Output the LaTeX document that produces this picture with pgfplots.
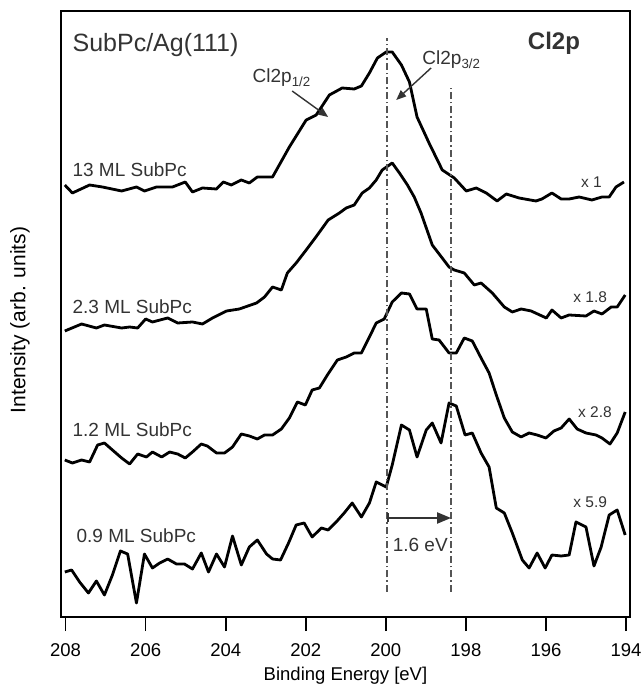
\documentclass[border=0pt]{standalone}
\usepackage{pgfplots}
\pgfplotsset{compat=1.18}
\usepackage{fontspec}
\setmainfont{Liberation Sans}
\usetikzlibrary{arrows.meta}
\definecolor{txt}{HTML}{333333}
\definecolor{dd}{HTML}{555555}
\tikzset{spec/.style={black, line width=2.8pt, line join=round, no marks}}
\begin{document}
\begin{tikzpicture}
\begin{axis}[
  scale only axis, width=569pt, height=606pt,
  xmin=193.9, xmax=208.115, x dir=reverse,
  ymin=68, ymax=674,
  ytick=\empty,
  xtick={194,196,...,208},
  tick pos=left,
  tick align=outside, major tick length=14pt,
  axis line style={line width=1.6pt},
  major tick style={line width=1.6pt, black},
  xticklabel style={font=\fontsize{18.5}{20}\selectfont, inner sep=0pt, anchor=base, yshift=-25pt},
  xticklabel shift=0pt,
  typeset ticklabels with strut=false,
  /pgf/number format/assume math mode=true,
  xlabel={Binding Energy [eV]},
  ylabel={Intensity (arb. units)},
  xlabel style={font=\fontsize{18.5}{20}\selectfont, inner sep=0pt, at={(axis description cs:0.5,-0.104)}, anchor=base},
  ylabel style={font=\fontsize{21}{23}\selectfont, inner sep=0pt, at={(axis description cs:-0.072,0.49)}, anchor=center},
]
% 13 ML
\addplot[spec] coordinates {
(208.02,500)(207.83,492)(207.40,500)(207.08,498)(206.60,494)(206.23,498)(206.03,494)
(205.73,498)(205.33,498)(205.01,503)(204.83,493)(204.58,497)(204.23,496)(204.06,503)
(203.86,500)(203.61,505)(203.41,502)(203.21,508)(202.83,508)(202.41,538)(201.99,565)
(201.74,570)(201.41,590)(201.09,597)(200.79,596)(200.61,599)(200.41,612)(200.21,627)
(199.99,633)(199.84,633)(199.61,620)(199.41,603)(199.22,568)(198.92,542)(198.59,515)
(198.29,507)(197.99,494)(197.74,497)(197.49,492)(197.22,484)(196.99,491)(196.67,487)
(196.25,484)(196.10,486)(195.85,492)(195.62,486)(195.42,486)(195.17,488)(194.85,485)
(194.60,488)(194.42,488)(194.25,498)(194.05,503)};
% 2.3 ML
\addplot[spec] coordinates {
(208.02,354)(207.60,361)(207.23,357)(207.03,360)(206.60,357)(206.40,358)(206.20,357)
(206.00,366)(205.83,363)(205.45,367)(205.20,362)(204.83,363)(204.58,361)(204.33,367)
(203.98,374)(203.66,376)(203.23,382)(203.03,388)(202.83,398)(202.61,395)(202.46,412)
(202.24,422)(201.99,435)(201.71,450)(201.44,465)(201.16,472)(200.99,477)(200.79,480)
(200.59,492)(200.41,497)(200.24,505)(200.09,515)(199.84,522)(199.66,512)(199.46,500)
(199.29,488)(199.12,472)(198.84,440)(198.42,418)(198.29,415)(198.04,412)(197.79,400)
(197.62,402)(197.34,392)(197.04,378)(196.84,373)(196.62,376)(196.37,374)(195.99,367)
(195.85,375)(195.62,367)(195.42,370)(195.00,369)(194.80,374)(194.60,371)(194.37,378)
(194.22,378)(194.02,390)};
% 1.2 ML
\addplot[spec] coordinates {
(208.02,225)(207.83,222)(207.60,225)(207.40,223)(207.20,240)(207.03,242)(206.83,235)
(206.60,227)(206.40,221)(206.20,231)(205.98,228)(205.83,233)(205.60,228)(205.40,233)
(205.20,231)(205.01,227)(204.83,233)(204.61,241)(204.46,239)(204.23,232)(204.03,232)
(203.83,238)(203.61,251)(203.41,249)(203.21,246)(203.03,250)(202.83,250)(202.61,256)
(202.41,267)(202.21,283)(202.01,280)(201.84,295)(201.66,297)(201.46,310)(201.21,325)
(200.99,328)(200.79,332)(200.61,332)(200.41,348)(200.24,362)(200.04,366)(199.84,383)
(199.61,392)(199.41,391)(199.22,376)(198.99,376)(198.84,346)(198.67,345)(198.42,332)
(198.24,332)(198.04,347)(197.84,344)(197.62,327)(197.42,312)(197.24,290)(197.04,267)
(196.84,253)(196.62,248)(196.42,252)(196.22,250)(196.00,247)(195.80,254)(195.62,257)
(195.42,266)(195.22,256)(195.00,252)(194.75,250)(194.60,247)(194.40,241)(194.22,252)
(194.02,273)};
% 0.9 ML
\addplot[spec] coordinates {
(208.02,113)(207.85,115)(207.65,103)(207.43,92)(207.23,104)(207.03,90)(206.83,110)
(206.63,134)(206.45,131)(206.23,82)(206.03,131)(205.83,117)(205.65,122)(205.45,126)
(205.23,121)(205.03,121)(204.83,116)(204.61,132)(204.43,113)(204.23,131)(204.03,118)
(203.83,149)(203.61,120)(203.41,138)(203.21,145)(202.98,131)(202.83,126)(202.63,125)
(202.43,142)(202.24,160)(202.04,162)(201.84,148)(201.61,157)(201.44,155)(201.24,163)
(201.04,172)(200.84,182)(200.61,168)(200.41,182)(200.24,203)(199.99,198)(199.84,220)
(199.61,260)(199.41,255)(199.22,228)(198.99,255)(198.84,262)(198.62,242)(198.42,282)
(198.24,279)(198.02,250)(197.84,252)(197.62,232)(197.42,218)(197.24,177)(197.04,172)
(196.84,152)(196.59,125)(196.42,117)(196.22,132)(196.02,117)(195.85,130)(195.62,129)
(195.42,130)(195.25,163)(195.00,158)(194.80,119)(194.62,138)(194.42,170)(194.22,175)
(194.02,150)};
% dash-dot reference lines
\addplot[dd, line width=1.3pt, no marks, dash pattern=on 7pt off 3pt on 1.5pt off 3pt] coordinates {(199.97,93)(199.97,647)};
\addplot[dd, line width=1.3pt, no marks, dash pattern=on 7pt off 3pt on 1.5pt off 3pt] coordinates {(198.37,93)(198.37,597)};
% arrows
\draw[txt, line width=1.4pt, -{Triangle[length=10pt,width=8pt]}] (axis cs:202.34,594) -- (axis cs:201.44,568);
\draw[txt, line width=1.4pt, -{Triangle[length=10pt,width=8pt]}] (axis cs:198.87,617) -- (axis cs:199.74,585);
\draw[txt, line width=2pt, {Bar[width=9pt]}-{Triangle[length=14pt,width=11pt]}] (axis cs:199.97,167) -- (axis cs:198.37,167);
% texts
\node[txt, anchor=west, inner sep=0pt, font=\fontsize{25}{27}\selectfont] at (axis cs:207.83,640) {SubPc/Ag(111)};
\node[txt, anchor=center, inner sep=0pt, font=\fontsize{24}{26}\selectfont\bfseries] at (axis cs:195.80,642) {Cl2p};
\node[txt, anchor=west, inner sep=0pt, font=\fontsize{19}{21}\selectfont] at (axis cs:203.33,607) {Cl2p\textsubscript{1/2}};
\node[txt, anchor=west, inner sep=0pt, font=\fontsize{19}{21}\selectfont] at (axis cs:199.09,625) {Cl2p\textsubscript{3/2}};
\node[txt, anchor=west, inner sep=0pt, font=\fontsize{19}{21}\selectfont] at (axis cs:207.83,515) {13 ML SubPc};
\node[txt, anchor=west, inner sep=0pt, font=\fontsize{19}{21}\selectfont] at (axis cs:207.83,378) {2.3 ML SubPc};
\node[txt, anchor=west, inner sep=0pt, font=\fontsize{19}{21}\selectfont] at (axis cs:207.83,255) {1.2 ML SubPc};
\node[txt, anchor=west, inner sep=0pt, font=\fontsize{19}{21}\selectfont] at (axis cs:207.73,149) {0.9 ML SubPc};
\node[txt, anchor=east, inner sep=0pt, font=\fontsize{15.5}{17}\selectfont] at (axis cs:194.60,503) {x 1};
\node[txt, anchor=east, inner sep=0pt, font=\fontsize{15.5}{17}\selectfont] at (axis cs:194.47,388) {x 1.8};
\node[txt, anchor=east, inner sep=0pt, font=\fontsize{15.5}{17}\selectfont] at (axis cs:194.35,273) {x 2.8};
\node[txt, anchor=east, inner sep=0pt, font=\fontsize{15.5}{17}\selectfont] at (axis cs:194.47,183) {x 5.9};
\node[txt, anchor=center, inner sep=0pt, font=\fontsize{19}{21}\selectfont] at (axis cs:199.14,140) {1.6 eV};
\end{axis}
\path (current axis.south west) ++(-61pt,-68pt) rectangle ++(642pt,685pt);
\end{tikzpicture}
\end{document}
